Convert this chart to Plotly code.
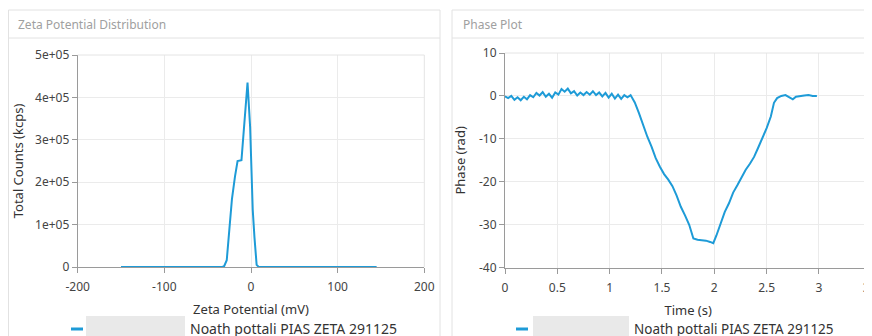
import plotly.graph_objects as go

# ---------------- data ----------------
zeta_mV = [-150, -100, -50, -33, -31, -28, -25, -22, -18.5, -15.5, -11, -9, -6.5, -4, -1, 2, 4, 6.5, 9, 50, 100, 145]
total_counts = [0, 0, 0, 0, 2000, 16000, 88000, 160000, 213000, 250000, 252000, 305000, 378000, 435000,
                330000, 135000, 70000, 5000, 0, 0, 0, 0]

time_s = [0.00, 0.03, 0.06, 0.09, 0.12, 0.15, 0.18, 0.21, 0.24, 0.27, 0.30, 0.33, 0.36, 0.39, 0.42, 0.45,
          0.48, 0.51, 0.54, 0.57, 0.60, 0.63, 0.66, 0.69, 0.72, 0.75, 0.78, 0.81, 0.84, 0.87, 0.90, 0.93,
          0.96, 0.99, 1.02, 1.05, 1.08, 1.11, 1.14, 1.17, 1.20,
          1.24, 1.28, 1.32, 1.36, 1.40, 1.44, 1.48, 1.52, 1.56, 1.60, 1.64, 1.68, 1.72, 1.76, 1.80,
          1.84, 1.88, 1.92, 1.96, 1.99, 2.02, 2.06, 2.10, 2.14, 2.18, 2.22, 2.26, 2.30, 2.34, 2.38,
          2.42, 2.46, 2.50, 2.54, 2.57, 2.60, 2.64, 2.68, 2.72, 2.75, 2.78, 2.82, 2.86, 2.90, 2.94, 2.98]
phase_rad = [-0.1, -0.5, 0.0, -0.9, -0.3, -1.0, -0.2, -0.8, 0.2, -0.3, 0.7, 0.1, 0.9, -0.2, 0.5, -0.4,
             0.8, 0.3, 1.6, 1.0, 1.7, 0.6, 1.1, 0.1, 0.8, 0.2, 0.9, 0.3, 1.1, 0.2, 0.8, -0.1,
             0.7, -0.4, 0.5, -0.6, 0.3, -0.7, 0.2, -0.3, 0.2,
             -1.5, -4.0, -6.8, -9.5, -11.8, -14.5, -16.5, -18.2, -19.5, -21.0, -23.2, -25.8, -27.8, -30.0, -33.2,
             -33.5, -33.6, -33.7, -34.0, -34.3, -32.5, -29.5, -27.0, -25.0, -22.5, -20.8, -19.0, -17.2, -15.8, -14.2,
             -12.0, -9.8, -7.5, -4.8, -1.6, -0.5, 0.0, 0.2, -0.3, -0.8, -0.2, 0.0, 0.1, 0.2, 0.0, 0.0]

zeta_ticks = [-200, -100, 0, 100, 200]
zeta_ticktext = ["-200", "-100", "0", "100", "200"]
count_ticks = [0, 100000, 200000, 300000, 400000, 500000]
count_ticktext = ["0", "1e+05", "2e+05", "3e+05", "4e+05", "5e+05"]
time_ticks = [0, 0.5, 1, 1.5, 2, 2.5, 3, 3.5]
time_ticktext = ["0", "0.5", "1", "1.5", "2", "2.5", "3", "3.5"]
phase_ticks = [-40, -30, -20, -10, 0, 10]
phase_ticktext = ["-40", "-30", "-20", "-10", "0", "10"]

legend_name = "Noath pottali PIAS ZETA 291125"

# ---------------- layout helpers ----------------
W, H = 872, 336
OFF = 8  # page body margin
def px(x):
    return (x - OFF) / W
def py(y):
    return 1 - (y - OFF) / H

LINE = "#1e9bd7"
FONT = "Noto Sans"
AX = "#9a9a9a"
GRID = "#ebebeb"
BORDER = "#e2e2e2"

fig = go.Figure()
fig.add_trace(go.Scatter(x=zeta_mV, y=total_counts, mode="lines", name=legend_name,
                         line=dict(color=LINE, width=2), xaxis="x", yaxis="y", showlegend=False))
fig.add_trace(go.Scatter(x=time_s, y=phase_rad, mode="lines", name=legend_name,
                         line=dict(color=LINE, width=2), xaxis="x2", yaxis="y2", showlegend=False))

common = dict(showline=True, linecolor=AX, linewidth=1, ticks="outside", ticklen=5, tickcolor=AX,
              showgrid=True, gridcolor=GRID, gridwidth=1, zeroline=False, automargin=False,
              tickfont=dict(family=FONT, size=12, color="#444"), mirror=False)

fig.update_layout(
    width=W, height=H, autosize=False,
    margin=dict(l=0, r=0, t=0, b=0, pad=0),
    paper_bgcolor="white", plot_bgcolor="white",
    font=dict(family=FONT, size=12, color="#333"),
    xaxis=dict(domain=[px(77.7), px(424.3)], range=[-200, 200], tickvals=zeta_ticks, ticktext=zeta_ticktext,
               anchor="y", title=dict(text="Zeta Potential (mV)", font=dict(size=13, color="#333"), standoff=10),
               ticklabelstandoff=4, **common),
    yaxis=dict(domain=[py(267), py(55)], range=[0, 500000], tickvals=count_ticks, ticktext=count_ticktext,
               anchor="x", title=dict(text="Total Counts (kcps)", font=dict(size=13, color="#333"), standoff=8),
               **common),
    xaxis2=dict(domain=[px(505), px(871.3)], range=[0, 3.5], tickvals=time_ticks, ticktext=time_ticktext,
                anchor="y2", title=dict(text="Time (s)", font=dict(size=13, color="#333"), standoff=10),
                ticklabelstandoff=4, **common),
    yaxis2=dict(domain=[py(267.7), py(53)], range=[-40, 10], tickvals=phase_ticks, ticktext=phase_ticktext,
                anchor="x2", title=dict(text="Phase (rad)", font=dict(size=13, color="#333"), standoff=10),
                **common),
    showlegend=False,
)

shapes = []
# panel borders
shapes.append(dict(type="rect", xref="paper", yref="paper", x0=px(8.5), x1=px(440), y0=-0.1, y1=py(10),
                   line=dict(color=BORDER, width=1), layer="below"))
shapes.append(dict(type="line", xref="paper", yref="paper", x0=px(8.5), x1=px(440), y0=py(38), y1=py(38),
                   line=dict(color=BORDER, width=1), layer="below"))
shapes.append(dict(type="rect", xref="paper", yref="paper", x0=px(452), x1=1.1, y0=-0.1, y1=py(10),
                   line=dict(color=BORDER, width=1), layer="below"))
shapes.append(dict(type="line", xref="paper", yref="paper", x0=px(452), x1=1.0, y0=py(38), y1=py(38),
                   line=dict(color=BORDER, width=1), layer="below"))
# plot frame top/right (light)
for (xa, xb, ya, yb) in [(77.7, 424.3, 55, 267), (505, 871.3, 53, 267.7)]:
    shapes.append(dict(type="line", xref="paper", yref="paper", x0=px(xa), x1=px(xb), y0=py(ya), y1=py(ya),
                       line=dict(color="#e4e4e4", width=1)))
    shapes.append(dict(type="line", xref="paper", yref="paper", x0=px(xb), x1=px(xb), y0=py(ya), y1=py(yb),
                       line=dict(color="#e4e4e4", width=1)))
# legend swatches and redaction boxes
for (sx0, sx1, bx0, bx1) in [(71, 83, 86, 185), (516, 528, 533, 629)]:
    shapes.append(dict(type="line", xref="paper", yref="paper", x0=px(sx0), x1=px(sx1), y0=py(329), y1=py(329),
                       line=dict(color=LINE, width=3)))
    shapes.append(dict(type="rect", xref="paper", yref="paper", x0=px(bx0), x1=px(bx1), y0=py(345), y1=py(316),
                       fillcolor="#e9e9e9", line=dict(width=0)))

annotations = [
    dict(text="Zeta Potential Distribution", x=px(16), y=py(24), xref="paper", yref="paper",
         xanchor="left", yanchor="middle", showarrow=False, font=dict(family=FONT, size=12, color="#a0a0a0")),
    dict(text="Phase Plot", x=px(461), y=py(24), xref="paper", yref="paper",
         xanchor="left", yanchor="middle", showarrow=False, font=dict(family=FONT, size=12, color="#a0a0a0")),
    dict(text=legend_name, x=px(188), y=py(328.5), xref="paper", yref="paper",
         xanchor="left", yanchor="middle", showarrow=False, font=dict(family=FONT, size=14, color="#333")),
    dict(text=legend_name, x=px(632), y=py(328.5), xref="paper", yref="paper",
         xanchor="left", yanchor="middle", showarrow=False, font=dict(family=FONT, size=13.5, color="#333")),
]
fig.update_layout(shapes=shapes, annotations=annotations)

fig.write_html("out.html")
